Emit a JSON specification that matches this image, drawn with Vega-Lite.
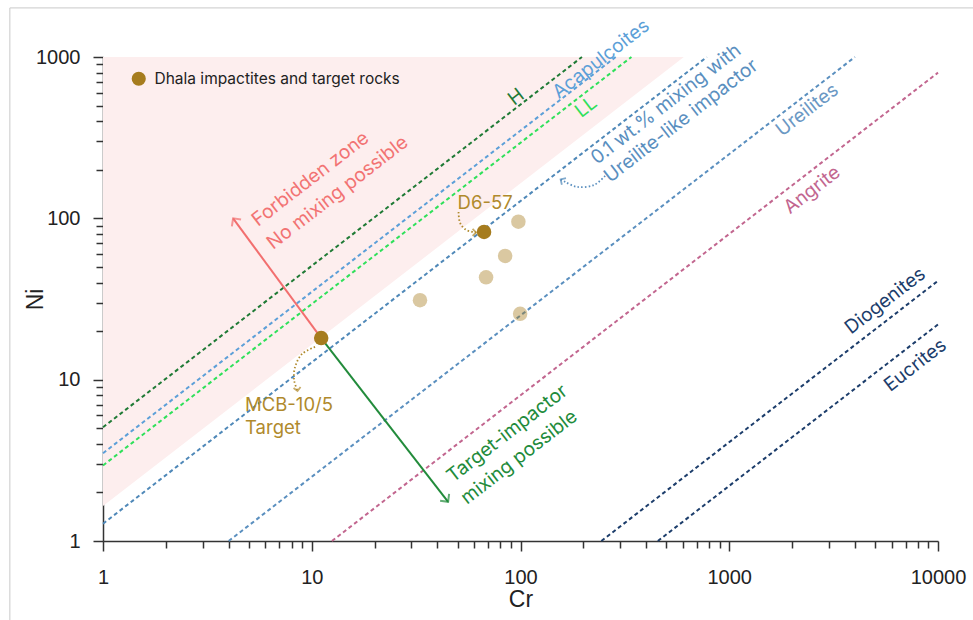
{
  "$schema": "https://vega.github.io/schema/vega-lite/v6.json",
  "width": 835,
  "height": 484,
  "autosize": {"type": "none"},
  "padding": {"left": 103, "top": 57, "right": 35, "bottom": 79},
  "background": "white",
  "config": {
    "view": {"stroke": null},
    "font": "Inter",
    "axis": {
      "grid": false,
      "zindex": 1,
      "domainColor": "#333333",
      "domainWidth": 1.5,
      "tickColor": "#333333",
      "tickWidth": 1.5,
      "labelFont": "Liberation Sans",
      "labelFontSize": 20,
      "labelColor": "#222222",
      "labelOverlap": false,
      "labelFlush": false,
      "titleFont": "Liberation Sans",
      "titleFontSize": 23,
      "titleFontWeight": "normal",
      "titleColor": "#222222"
    }
  },
  "datasets": {
    "frame": [{"cr": 0.358, "cr2": 1000000000, "ni": 2015, "ni2": 0.000001}],
    "zone": [
      {"cr": 1, "ni": 1.65, "top": 1000},
      {"cr": 606, "ni": 1000, "top": 1000}
    ],
    "ratios": [
      {"series": "H", "cr": 1, "ni": 5.07},
      {"series": "H", "cr": 197, "ni": 1000},
      {"series": "Acapulcoites", "cr": 1, "ni": 3.5},
      {"series": "Acapulcoites", "cr": 285.7, "ni": 1000},
      {"series": "LL", "cr": 1, "ni": 2.94},
      {"series": "LL", "cr": 340, "ni": 1000},
      {"series": "Mixing", "cr": 1, "ni": 1.28},
      {"series": "Mixing", "cr": 781, "ni": 1000},
      {"series": "Ureilites", "cr": 4, "ni": 1},
      {"series": "Ureilites", "cr": 4000, "ni": 1000},
      {"series": "Angrite", "cr": 12.5, "ni": 1},
      {"series": "Angrite", "cr": 10000, "ni": 800},
      {"series": "Diogenites", "cr": 244, "ni": 1},
      {"series": "Diogenites", "cr": 10000, "ni": 41},
      {"series": "Eucrites", "cr": 455, "ni": 1},
      {"series": "Eucrites", "cr": 10000, "ni": 22}
    ],
    "arrows": [
      {"series": "Forbidden", "cr": 11.1, "ni": 18.1, "cr2": 4.2, "ni2": 100},
      {"series": "Target-impactor", "cr": 11.1, "ni": 18.1, "cr2": 45, "ni2": 1.75}
    ],
    "pointers": [
      {"note": "D6-57", "i": 0, "cr": 50.5, "ni": 109.6},
      {"note": "D6-57", "i": 1, "cr": 51.35, "ni": 93.6},
      {"note": "D6-57", "i": 2, "cr": 54.9, "ni": 84.8},
      {"note": "D6-57", "i": 3, "cr": 61.3, "ni": 81.8},
      {"note": "MCB-10/5", "i": 0, "cr": 10.37, "ni": 15.95},
      {"note": "MCB-10/5", "i": 1, "cr": 8.985, "ni": 14.43},
      {"note": "MCB-10/5", "i": 2, "cr": 8.32, "ni": 11.99},
      {"note": "MCB-10/5", "i": 3, "cr": 8.23, "ni": 9.96},
      {"note": "MCB-10/5", "i": 4, "cr": 8.55, "ni": 8.51},
      {"note": "Mixing", "i": 0, "cr": 254.3, "ni": 183.2},
      {"note": "Mixing", "i": 1, "cr": 225.3, "ni": 161.1},
      {"note": "Mixing", "i": 2, "cr": 186.7, "ni": 156.6},
      {"note": "Mixing", "i": 3, "cr": 163.6, "ni": 168.2},
      {"note": "Mixing", "i": 4, "cr": 155.7, "ni": 174.3}
    ],
    "heads": [
      {"head": "forbidden", "series": "Forbidden", "cr": 4.2, "ni": 100},
      {"head": "target", "series": "Target-impactor", "cr": 45, "ni": 1.75},
      {"head": "d657", "series": "Note", "cr": 61.3, "ni": 81.8},
      {"head": "mcb", "series": "Note", "cr": 8.55, "ni": 8.51},
      {"head": "mixing", "series": "Mixing", "cr": 155.7, "ni": 174.3}
    ],
    "samples": [
      {"sample": "MCB-10/5", "group": "Dhala impactites and target rocks", "cr": 11.1, "ni": 18.1},
      {"sample": "D6-57", "group": "Dhala impactites and target rocks", "cr": 66.9, "ni": 82.4},
      {"sample": "", "group": "Dhala impactites and target rocks", "cr": 33.0, "ni": 31.1},
      {"sample": "", "group": "Dhala impactites and target rocks", "cr": 68.4, "ni": 43.1},
      {"sample": "", "group": "Dhala impactites and target rocks", "cr": 84.4, "ni": 58.5},
      {"sample": "", "group": "Dhala impactites and target rocks", "cr": 97.7, "ni": 95.4},
      {"sample": "", "group": "Dhala impactites and target rocks", "cr": 99.6, "ni": 25.6}
    ],
    "lineLabels": [
      {"series": "H", "text": "H", "cr": 95.3, "ni": 565.8},
      {"series": "Acapulcoites", "text": "Acapulcoites", "cr": 243, "ni": 973},
      {"series": "LL", "text": "LL", "cr": 206, "ni": 490},
      {"series": "Ureilites", "text": "Ureilites", "cr": 2362, "ni": 470},
      {"series": "Angrite", "text": "Angrite", "cr": 2495, "ni": 150},
      {"series": "Diogenites", "text": "Diogenites", "cr": 5585, "ni": 30.8},
      {"series": "Eucrites", "text": "Eucrites", "cr": 7780, "ni": 12.3}
    ],
    "noteLabels": [
      {"series": "Forbidden", "text": "Forbidden zone", "cr": 5.53, "ni": 88.4},
      {"series": "Forbidden", "text": "No mixing possible", "cr": 6.53, "ni": 63.7},
      {"series": "Mixing", "text": "0.1 wt.% mixing with", "cr": 232.8, "ni": 214.3},
      {"series": "Mixing", "text": "Ureilite-like impactor", "cr": 268.8, "ni": 165},
      {"series": "Target-impactor", "text": "Target-impactor", "cr": 47.5, "ni": 2.29},
      {"series": "Target-impactor", "text": "mixing possible", "cr": 55.5, "ni": 1.67}
    ],
    "sampleLabels": [
      {"series": "Note", "text": "MCB-10/5", "cr": 4.79, "ni": 6.97},
      {"series": "Note", "text": "Target", "cr": 4.79, "ni": 5.02}
    ],
    "centreLabels": [
      {"series": "Note", "text": "D6-57", "cr": 67.7, "ni": 123.7}
    ]
  },
  "layer": [
    {
      "data": {"name": "frame"},
      "mark": {"type": "rect", "filled": false, "stroke": "#c9c9c9", "strokeWidth": 1, "clip": false},
      "encoding": {
        "x": {
          "field": "cr", "type": "quantitative",
          "scale": {"type": "log", "domain": [1, 10000], "nice": false},
          "axis": {
            "title": "Cr",
            "values": [1, 2, 3, 4, 5, 6, 7, 8, 9, 10, 20, 30, 40, 50, 60, 70, 80, 90, 100, 200, 300, 400, 500, 600, 700, 800, 900, 1000, 2000, 3000, 4000, 5000, 6000, 7000, 8000, 9000, 10000],
            "format": "d",
            "labelExpr": "indexof([1, 10, 100, 1000, 10000], datum.value) >= 0 ? datum.label : ''",
            "tickSize": {"condition": {"test": "indexof([1, 10, 100, 1000, 10000], datum.value) >= 0", "value": 10}, "value": 7},
            "labelPadding": 16,
            "titlePadding": 1
          }
        },
        "x2": {"field": "cr2"},
        "y": {
          "field": "ni", "type": "quantitative",
          "scale": {"type": "log", "domain": [1, 1000], "nice": false},
          "axis": {
            "title": "Ni",
            "values": [1, 2, 3, 4, 5, 6, 7, 8, 9, 10, 20, 30, 40, 50, 60, 70, 80, 90, 100, 200, 300, 400, 500, 600, 700, 800, 900, 1000],
            "format": "d",
            "labelExpr": "indexof([1, 10, 100, 1000], datum.value) >= 0 ? datum.label : ''",
            "tickSize": {"condition": {"test": "indexof([1, 10, 100, 1000], datum.value) >= 0", "value": 10}, "value": 7},
            "labelPadding": 13,
            "titlePadding": -12
          }
        },
        "y2": {"field": "ni2"}
      }
    },
    {
      "data": {"name": "zone"},
      "mark": {"type": "area", "color": "#fdeeee", "opacity": 1},
      "encoding": {
        "x": {"field": "cr", "type": "quantitative"},
        "y": {"field": "ni", "type": "quantitative"},
        "y2": {"field": "top"}
      }
    },
    {
      "data": {"name": "ratios"},
      "mark": {"type": "line", "strokeWidth": 2, "strokeDash": [4, 3]},
      "encoding": {
        "x": {"field": "cr", "type": "quantitative"},
        "y": {"field": "ni", "type": "quantitative"},
        "detail": {"field": "series"},
        "stroke": {
          "field": "series", "type": "nominal", "legend": null,
          "scale": {
            "domain": ["H", "Acapulcoites", "LL", "Mixing", "Ureilites", "Angrite", "Diogenites", "Eucrites", "Forbidden", "Target-impactor", "Note"],
            "range": ["#1f7a35", "#5c9fd8", "#2fe05a", "#4f88b8", "#5a8fbf", "#c2668f", "#1c3d6b", "#1c3d6b", "#f26f6f", "#228b3b", "#b08a2c"]
          }
        }
      }
    },
    {
      "data": {"name": "arrows"},
      "mark": {"type": "rule", "strokeWidth": 2},
      "encoding": {
        "x": {"field": "cr", "type": "quantitative"},
        "y": {"field": "ni", "type": "quantitative"},
        "x2": {"field": "cr2"},
        "y2": {"field": "ni2"},
        "stroke": {"field": "series", "type": "nominal", "legend": null}
      }
    },
    {
      "data": {"name": "pointers"},
      "transform": [{"filter": "datum.note !== 'Mixing'"}],
      "mark": {"type": "line", "interpolate": "catmull-rom", "strokeWidth": 1.8, "strokeDash": [1.5, 2.2], "stroke": "#b08a2c"},
      "encoding": {
        "x": {"field": "cr", "type": "quantitative"},
        "y": {"field": "ni", "type": "quantitative"},
        "detail": {"field": "note"},
        "order": {"field": "i", "type": "quantitative"}
      }
    },
    {
      "data": {"name": "pointers"},
      "transform": [{"filter": "datum.note === 'Mixing'"}],
      "mark": {"type": "line", "interpolate": "catmull-rom", "strokeWidth": 1.8, "strokeDash": [1.5, 2.2], "stroke": "#5a8fbf"},
      "encoding": {
        "x": {"field": "cr", "type": "quantitative"},
        "y": {"field": "ni", "type": "quantitative"},
        "order": {"field": "i", "type": "quantitative"}
      }
    },
    {
      "data": {"name": "heads"},
      "transform": [{"filter": "datum.head === 'forbidden'"}],
      "mark": {"type": "point", "shape": "M-1,1L0,0L1,1", "filled": false, "size": 130, "strokeWidth": 2, "angle": -36.2},
      "encoding": {
        "x": {"field": "cr", "type": "quantitative"},
        "y": {"field": "ni", "type": "quantitative"},
        "stroke": {"field": "series", "type": "nominal", "legend": null}
      }
    },
    {
      "data": {"name": "heads"},
      "transform": [{"filter": "datum.head === 'target'"}],
      "mark": {"type": "point", "shape": "M-1,1L0,0L1,1", "filled": false, "size": 130, "strokeWidth": 2, "angle": 142.1},
      "encoding": {
        "x": {"field": "cr", "type": "quantitative"},
        "y": {"field": "ni", "type": "quantitative"},
        "stroke": {"field": "series", "type": "nominal", "legend": null}
      }
    },
    {
      "data": {"name": "heads"},
      "transform": [{"filter": "datum.head === 'd657'"}],
      "mark": {"type": "point", "shape": "M-1,1L0,0L1,1", "filled": false, "size": 50, "strokeWidth": 1.8, "angle": 90},
      "encoding": {
        "x": {"field": "cr", "type": "quantitative"},
        "y": {"field": "ni", "type": "quantitative"},
        "stroke": {"field": "series", "type": "nominal", "legend": null}
      }
    },
    {
      "data": {"name": "heads"},
      "transform": [{"filter": "datum.head === 'mcb'"}],
      "mark": {"type": "point", "shape": "M-1,1L0,0L1,1", "filled": false, "size": 50, "strokeWidth": 1.8, "angle": 172},
      "encoding": {
        "x": {"field": "cr", "type": "quantitative"},
        "y": {"field": "ni", "type": "quantitative"},
        "stroke": {"field": "series", "type": "nominal", "legend": null}
      }
    },
    {
      "data": {"name": "heads"},
      "transform": [{"filter": "datum.head === 'mixing'"}],
      "mark": {"type": "point", "shape": "M-1,1L0,0L1,1", "filled": false, "size": 60, "strokeWidth": 1.8, "angle": -58},
      "encoding": {
        "x": {"field": "cr", "type": "quantitative"},
        "y": {"field": "ni", "type": "quantitative"},
        "stroke": {"field": "series", "type": "nominal", "legend": null}
      }
    },
    {
      "data": {"name": "samples"},
      "mark": {"type": "circle", "size": 210},
      "encoding": {
        "x": {"field": "cr", "type": "quantitative"},
        "y": {"field": "ni", "type": "quantitative"},
        "color": {
          "field": "group", "type": "nominal",
          "scale": {"domain": ["Dhala impactites and target rocks"], "range": ["#a67c1e"]},
          "legend": {
            "title": null,
            "orient": "top-left",
            "offset": 14,
            "symbolType": "circle",
            "symbolSize": 200,
            "symbolOpacity": 1,
            "symbolStrokeWidth": 0,
            "symbolOffset": 14,
            "labelFont": "Inter",
            "labelFontSize": 15.5,
            "labelColor": "#222222",
            "labelOffset": 8,
            "labelLimit": 400
          }
        },
        "opacity": {"condition": {"test": "datum.sample !== ''", "value": 1}, "value": 0.42}
      }
    },
    {
      "data": {"name": "lineLabels"},
      "mark": {"type": "text", "angle": -37.7, "align": "center", "baseline": "middle", "fontSize": 19, "font": "Inter"},
      "encoding": {
        "x": {"field": "cr", "type": "quantitative"},
        "y": {"field": "ni", "type": "quantitative"},
        "text": {"field": "text"},
        "fill": {
          "field": "series", "type": "nominal", "legend": null,
          "scale": {
            "domain": ["H", "Acapulcoites", "LL", "Mixing", "Ureilites", "Angrite", "Diogenites", "Eucrites", "Forbidden", "Target-impactor", "Note"],
            "range": ["#1f7a35", "#5c9fd8", "#2fe05a", "#5a8fbf", "#6b98c4", "#c2668f", "#1c3d6b", "#1c3d6b", "#f27373", "#228b3b", "#b08a2c"]
          }
        }
      }
    },
    {
      "data": {"name": "noteLabels"},
      "mark": {"type": "text", "angle": -37.7, "align": "left", "baseline": "alphabetic", "fontSize": 19.2, "font": "Inter"},
      "encoding": {
        "x": {"field": "cr", "type": "quantitative"},
        "y": {"field": "ni", "type": "quantitative"},
        "text": {"field": "text"},
        "fill": {"field": "series", "type": "nominal", "legend": null}
      }
    },
    {
      "data": {"name": "sampleLabels"},
      "mark": {"type": "text", "align": "left", "baseline": "middle", "fontSize": 18.5, "font": "Inter"},
      "encoding": {
        "x": {"field": "cr", "type": "quantitative"},
        "y": {"field": "ni", "type": "quantitative"},
        "text": {"field": "text"},
        "fill": {"field": "series", "type": "nominal", "legend": null}
      }
    },
    {
      "data": {"name": "centreLabels"},
      "mark": {"type": "text", "align": "center", "baseline": "middle", "fontSize": 18.5, "font": "Inter"},
      "encoding": {
        "x": {"field": "cr", "type": "quantitative"},
        "y": {"field": "ni", "type": "quantitative"},
        "text": {"field": "text"},
        "fill": {"field": "series", "type": "nominal", "legend": null}
      }
    }
  ]
}
